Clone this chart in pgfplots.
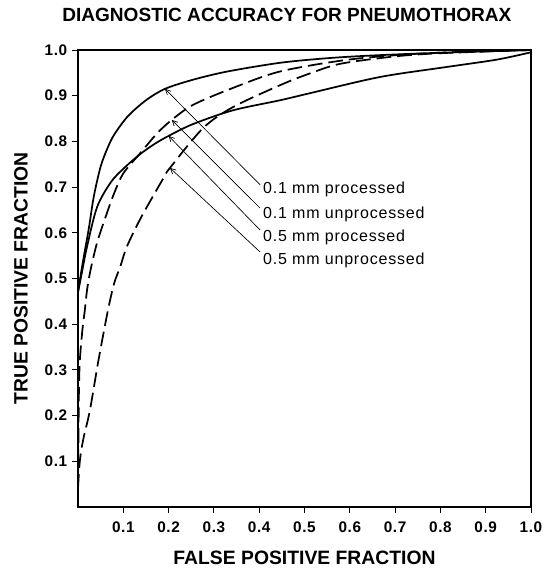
\documentclass[border=0pt]{standalone}
\usepackage{fontspec}
\setmainfont{Liberation Sans}
\newfontfamily\annfont[LetterSpace=5]{Liberation Sans}
\newfontfamily\tickfont[LetterSpace=4]{Liberation Sans}
\usepackage{pgfplots}
\pgfplotsset{compat=1.18}
\usetikzlibrary{arrows.meta}

\begin{document}
\begin{tikzpicture}
\useasboundingbox (-58.5pt,-45.75pt) rectangle (351.75pt,380.25pt);
\begin{axis}[
  at={(0,0)}, anchor=south west,
  scale only axis, width=339.75pt, height=342.75pt,
  xmin=0, xmax=1, ymin=0, ymax=1,
  xtick={0.1,0.2,0.3,0.4,0.5,0.6,0.7,0.8,0.9,1},
  ytick={0.1,0.2,0.3,0.4,0.5,0.6,0.7,0.8,0.9,1},
  xticklabels={0.1,0.2,0.3,0.4,0.5,0.6,0.7,0.8,0.9,1.0},
  yticklabels={0.1,0.2,0.3,0.4,0.5,0.6,0.7,0.8,0.9,1.0},
  tick align=outside, xtick pos=bottom, ytick pos=left,
  major tick length=4.5pt,
  tick style={black, line width=0.7pt},
  axis line style={line width=0.8pt},
  tick label style={font=\tickfont\bfseries\fontsize{11.5}{13}\selectfont},
  xticklabel style={yshift=-3pt},
  xlabel={FALSE POSITIVE FRACTION},
  ylabel={TRUE POSITIVE FRACTION},
  label style={font=\bfseries\fontsize{14.5}{16}\selectfont},
  xlabel style={at={(rel axis cs:0.5,-0.112)}, anchor=center},
  ylabel style={at={(rel axis cs:-0.126,0.5)}, anchor=center},
  title={DIAGNOSTIC ACCURACY FOR PNEUMOTHORAX},
  title style={at={(rel axis cs:0.461,1.06)}, anchor=center,
               font=\bfseries\fontsize{14.3}{16}\selectfont},
  solidroc/.style={black, line width=1.3pt, smooth, tension=0.5},
  dashroc/.style={black, line width=1.3pt, smooth, tension=0.5,
                  dash pattern=on 11pt off 4.5pt},
]

% 0.1 mm processed
\addplot[solidroc] coordinates {
  (0,0.47) (0.008,0.52) (0.015,0.56) (0.024,0.61) (0.035,0.68)
  (0.05,0.745) (0.065,0.785) (0.08,0.815) (0.11,0.855) (0.15,0.89)
  (0.192,0.915) (0.254,0.935) (0.33,0.953) (0.446,0.972) (0.55,0.982)
  (0.65,0.988) (0.8,0.994) (1,1)
};

% 0.5 mm processed
\addplot[solidroc] coordinates {
  (0,0.47) (0.008,0.51) (0.02,0.57) (0.042,0.656) (0.072,0.71)
  (0.10,0.74) (0.137,0.772) (0.17,0.795) (0.2,0.812) (0.254,0.838)
  (0.342,0.868) (0.446,0.89) (0.51,0.905) (0.667,0.941) (0.815,0.963)
  (0.925,0.979) (1,0.995)
};

% 0.1 mm unprocessed
\addplot[dashroc] coordinates {
  (0,0.05) (0.001,0.15) (0.002,0.25) (0.004,0.32) (0.01,0.39)
  (0.015,0.43) (0.02,0.475) (0.028,0.52) (0.042,0.578) (0.061,0.635)
  (0.08,0.687) (0.10,0.73) (0.138,0.775) (0.175,0.818) (0.207,0.847)
  (0.254,0.88) (0.342,0.917) (0.446,0.953) (0.59,0.978) (0.72,0.99)
  (0.85,0.996) (1,1)
};

% 0.5 mm unprocessed
\addplot[dashroc] coordinates {
  (0,0.04) (0.004,0.10) (0.012,0.15) (0.026,0.21) (0.045,0.32)
  (0.066,0.43) (0.08,0.49) (0.093,0.525) (0.108,0.57) (0.14,0.635)
  (0.19,0.722) (0.203,0.742) (0.276,0.829) (0.342,0.875) (0.446,0.923)
  (0.51,0.948) (0.58,0.97) (0.7,0.986) (0.8,0.993) (1,1)
};

% leader arrows and curve names
\draw[-{Straight Barb[length=4pt,width=4pt]}, line width=0.5pt]
  (axis cs:0.402,0.705) -- (axis cs:0.192,0.915);
\draw[-{Straight Barb[length=4pt,width=4pt]}, line width=0.5pt]
  (axis cs:0.402,0.654) -- (axis cs:0.207,0.847);
\draw[-{Straight Barb[length=4pt,width=4pt]}, line width=0.5pt]
  (axis cs:0.402,0.606) -- (axis cs:0.200,0.812);
\draw[-{Straight Barb[length=4pt,width=4pt]}, line width=0.5pt]
  (axis cs:0.402,0.558) -- (axis cs:0.203,0.742);

\begin{scope}[every node/.style={anchor=west, inner sep=0pt,
    font=\annfont\fontsize{12}{14}\selectfont}]
  \node at (axis cs:0.408,0.694) {0.1 mm processed};
  \node at (axis cs:0.408,0.641) {0.1 mm unprocessed};
  \node at (axis cs:0.408,0.591) {0.5 mm processed};
  \node at (axis cs:0.408,0.540) {0.5 mm unprocessed};
\end{scope}
\end{axis}
\end{tikzpicture}
\end{document}
